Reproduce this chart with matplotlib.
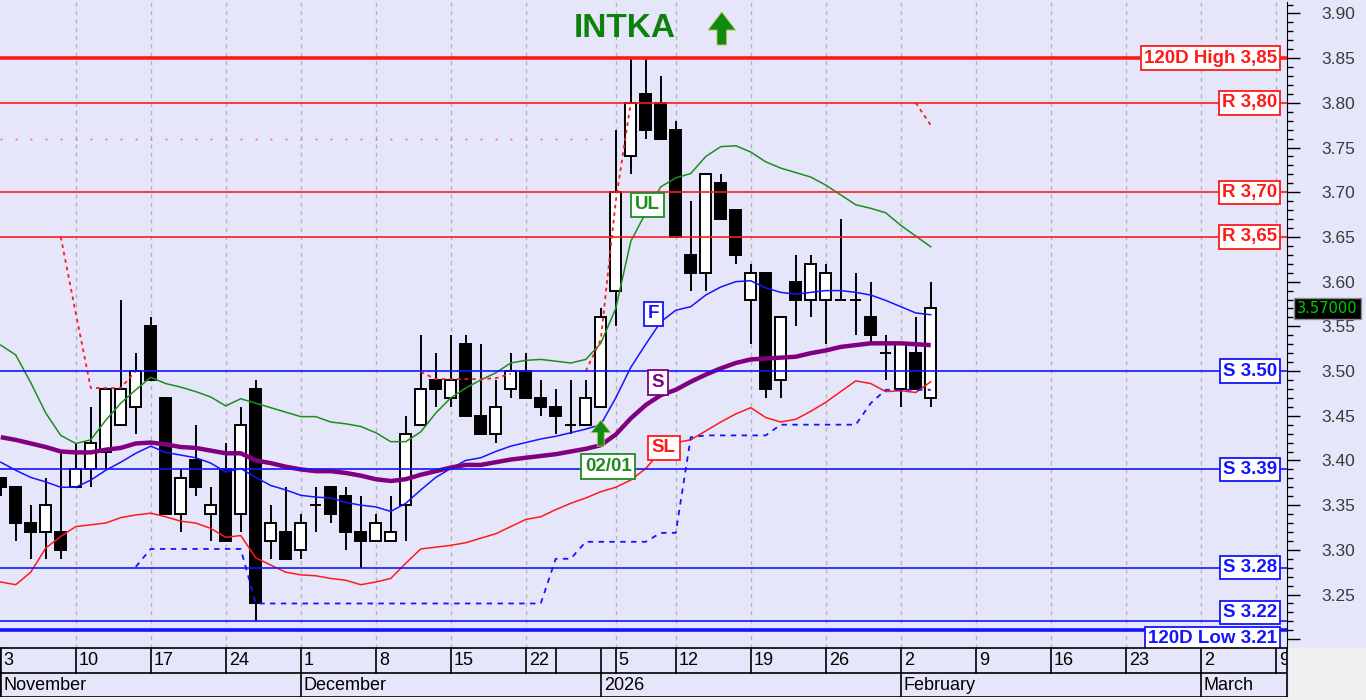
import matplotlib

matplotlib.use("Agg")
import matplotlib.pyplot as plt
import matplotlib.transforms as mtransforms
import numpy as np
import pandas as pd
from matplotlib.patches import Rectangle

plt.rcParams["font.family"] = ["Liberation Sans", "DejaVu Sans"]

# ---- data --------------------------------------------------------------
HOLIDAYS = ["2025-12-24", "2025-12-25", "2025-12-26", "2026-01-01", "2026-01-06"]

opens = [3.38, 3.37, 3.33, 3.32, 3.32, 3.37, 3.39, 3.41, 3.44, 3.46,
         3.55, 3.47, 3.34, 3.40, 3.34, 3.39, 3.34, 3.48, 3.31, 3.32,
         3.30, 3.35, 3.37, 3.36, 3.32, 3.31, 3.31, 3.35, 3.44, 3.49,
         3.47, 3.53, 3.45, 3.43, 3.48, 3.50, 3.47, 3.46, 3.44, 3.44,
         3.46, 3.59, 3.74, 3.81, 3.80, 3.77, 3.63, 3.61, 3.71, 3.68,
         3.58, 3.61, 3.49, 3.60, 3.58, 3.58, 3.58, 3.58, 3.56, 3.52,
         3.48, 3.52, 3.47]
highs = [3.38, 3.37, 3.35, 3.38, 3.41, 3.42, 3.46, 3.48, 3.58, 3.52,
         3.56, 3.47, 3.39, 3.44, 3.37, 3.42, 3.46, 3.49, 3.35, 3.37,
         3.34, 3.37, 3.37, 3.37, 3.36, 3.34, 3.36, 3.45, 3.54, 3.52,
         3.54, 3.54, 3.53, 3.49, 3.52, 3.52, 3.49, 3.48, 3.49, 3.49,
         3.57, 3.77, 3.85, 3.85, 3.83, 3.78, 3.69, 3.72, 3.72, 3.68,
         3.62, 3.61, 3.56, 3.63, 3.63, 3.62, 3.67, 3.61, 3.60, 3.54,
         3.53, 3.56, 3.60]
lows = [3.36, 3.31, 3.29, 3.29, 3.29, 3.37, 3.37, 3.39, 3.44, 3.43,
        3.49, 3.34, 3.32, 3.36, 3.31, 3.31, 3.32, 3.22, 3.29, 3.29,
        3.29, 3.32, 3.33, 3.30, 3.28, 3.31, 3.31, 3.31, 3.44, 3.46,
        3.46, 3.45, 3.43, 3.42, 3.47, 3.47, 3.45, 3.43, 3.43, 3.44,
        3.46, 3.55, 3.72, 3.76, 3.76, 3.65, 3.59, 3.59, 3.67, 3.62,
        3.53, 3.47, 3.47, 3.55, 3.56, 3.53, 3.58, 3.54, 3.53, 3.49,
        3.46, 3.48, 3.46]
closes = [3.37, 3.33, 3.32, 3.35, 3.30, 3.39, 3.42, 3.48, 3.48, 3.50,
          3.49, 3.34, 3.38, 3.37, 3.35, 3.31, 3.44, 3.24, 3.33, 3.29,
          3.33, 3.35, 3.34, 3.32, 3.31, 3.33, 3.32, 3.43, 3.48, 3.48,
          3.49, 3.45, 3.43, 3.46, 3.50, 3.47, 3.46, 3.45, 3.44, 3.47,
          3.56, 3.70, 3.80, 3.77, 3.76, 3.65, 3.61, 3.72, 3.67, 3.63,
          3.61, 3.48, 3.56, 3.58, 3.62, 3.61, 3.58, 3.58, 3.54, 3.52,
          3.53, 3.48, 3.57]

upper_band = [3.529, 3.518, 3.487, 3.453, 3.428, 3.419, 3.423, 3.445, 3.464, 3.479,
              3.493, 3.486, 3.482, 3.477, 3.471, 3.461, 3.469, 3.464, 3.459, 3.454,
              3.449, 3.449, 3.443, 3.441, 3.438, 3.431, 3.421, 3.421, 3.432, 3.453,
              3.470, 3.481, 3.490, 3.498, 3.509, 3.512, 3.513, 3.511, 3.509, 3.513,
              3.531, 3.570, 3.645, 3.677, 3.706, 3.716, 3.721, 3.740, 3.751, 3.752,
              3.745, 3.734, 3.727, 3.722, 3.717, 3.708, 3.697, 3.686, 3.682, 3.677,
              3.663, 3.651, 3.639]
fast_ma = [3.398, 3.389, 3.381, 3.376, 3.370, 3.370, 3.378, 3.389, 3.398, 3.408,
           3.416, 3.409, 3.406, 3.403, 3.397, 3.387, 3.391, 3.381, 3.372, 3.367,
           3.361, 3.359, 3.358, 3.353, 3.350, 3.348, 3.343, 3.352, 3.367, 3.381,
           3.391, 3.400, 3.403, 3.410, 3.416, 3.420, 3.424, 3.427, 3.431, 3.435,
           3.440, 3.470, 3.504, 3.530, 3.555, 3.568, 3.572, 3.585, 3.594, 3.600,
           3.601, 3.593, 3.588, 3.586, 3.588, 3.590, 3.590, 3.588, 3.585, 3.579,
           3.572, 3.565, 3.563]
slow_ma = [3.426, 3.423, 3.419, 3.415, 3.410, 3.409, 3.409, 3.412, 3.414, 3.419,
           3.420, 3.418, 3.415, 3.414, 3.411, 3.408, 3.408, 3.400, 3.397, 3.393,
           3.390, 3.388, 3.388, 3.386, 3.383, 3.379, 3.377, 3.379, 3.384, 3.388,
           3.392, 3.395, 3.395, 3.398, 3.401, 3.403, 3.405, 3.407, 3.410, 3.413,
           3.417, 3.429, 3.447, 3.462, 3.473, 3.479, 3.488, 3.496, 3.503, 3.509,
           3.513, 3.514, 3.515, 3.516, 3.520, 3.523, 3.527, 3.529, 3.531, 3.531,
           3.531, 3.530, 3.529]
lower_band = [3.264, 3.261, 3.275, 3.302, 3.315, 3.326, 3.328, 3.330, 3.336, 3.339,
              3.341, 3.337, 3.332, 3.330, 3.324, 3.314, 3.316, 3.291, 3.283, 3.275,
              3.272, 3.271, 3.268, 3.266, 3.261, 3.264, 3.268, 3.285, 3.301, 3.303,
              3.305, 3.308, 3.313, 3.318, 3.326, 3.334, 3.337, 3.345, 3.352, 3.358,
              3.365, 3.370, 3.378, 3.391, 3.410, 3.420, 3.423, 3.433, 3.443, 3.452,
              3.459, 3.448, 3.443, 3.446, 3.455, 3.465, 3.477, 3.489, 3.486, 3.477,
              3.478, 3.476, 3.488]
stop_short = [None, None, None, None, 3.650, 3.565, 3.481, 3.481, 3.481, 3.500,
              None, None, None, None, None, None, None, None, None, None,
              None, None, None, None, None, None, None, None, 3.499, 3.491,
              3.491, 3.491, 3.491, 3.492, 3.497, None, None, None, None, 3.500,
              3.535, 3.690, 3.800, None, None, None, None, None, None, None,
              None, None, None, None, None, None, None, None, None, None,
              None, 3.800, 3.775]
stop_long = [None, None, None, None, None, None, None, None, None, 3.281,
             3.301, 3.301, 3.301, 3.301, 3.301, 3.301, 3.301, 3.240, 3.240, 3.240,
             3.240, 3.240, 3.240, 3.240, 3.240, 3.240, 3.240, 3.240, 3.240, 3.240,
             3.240, 3.240, 3.240, 3.240, 3.240, 3.240, 3.240, 3.290, 3.290, 3.309,
             3.309, 3.309, 3.309, 3.309, 3.319, 3.319, 3.426, 3.428, 3.428, 3.428,
             3.428, 3.428, 3.440, 3.440, 3.440, 3.440, 3.440, 3.440, 3.464, 3.479,
             3.479, 3.479, 3.479]
target_dots = [3.759] * 41

levels = [3.85, 3.80, 3.70, 3.65, 3.50, 3.39, 3.28, 3.22, 3.21]
level_texts = ["120D High 3,85", "R 3,80", "R 3,70", "R 3,65", "S 3.50",
               "S 3.39", "S 3.28", "S 3.22", "120D Low 3.21"]
last_price = 3.57

week_ticks = ["2025-11-03", "2025-11-10", "2025-11-17", "2025-11-24", "2025-12-01",
              "2025-12-08", "2025-12-15", "2025-12-22", "2025-12-29", "2026-01-02",
              "2026-01-05", "2026-01-12", "2026-01-19", "2026-01-26", "2026-02-02",
              "2026-02-09", "2026-02-16", "2026-02-23", "2026-03-02", "2026-03-09"]
week_labels = ["3", "10", "17", "24", "1", "8", "15", "22", "", "",
               "5", "12", "19", "26", "2", "9", "16", "23", "2", "9"]
month_ticks = ["2025-11-03", "2025-12-01", "2026-01-02", "2026-02-02", "2026-03-02"]
month_labels = ["November", "December", "2026", "February", "March"]
signal_date = "2026-01-02"

# ---- layout ------------------------------------------------------------
W, H = 1366, 700
BG = "#e6e6fa"
RED = "#ff1a1a"
BLUE = "#1414ff"
GREEN = "#1f8c1f"
PURPLE = "#800080"

days = pd.bdate_range("2025-11-03", "2026-03-10", freq="C", holidays=HOLIDAYS)
pos = {d.strftime("%Y-%m-%d"): i for i, d in enumerate(days)}

fig = plt.figure(figsize=(W / 100, H / 100), dpi=100)
fig.patch.set_facecolor(BG)
fig.patches.append(Rectangle((1289 / W, 0), 1, 52 / H, transform=fig.transFigure,
                             facecolor="#f0f0f0", edgecolor="none", zorder=0))
fig.patches.append(Rectangle((0, 0), 1, 3 / H, transform=fig.transFigure,
                             facecolor="#f0f0f0", edgecolor="none", zorder=0))

ax = fig.add_axes([0, 52 / H, 1287 / W, 646 / H])
ax.set_facecolor(BG)
ax.set_xlim(-0.05, 85.75)
ax.set_ylim(3.1902, 3.9128)

# weekly grid
for d in week_ticks:
    if d in ("2025-11-03", "2025-12-29", "2026-01-02"):
        continue
    ax.axvline(pos[d], color="#b4b4b4", lw=1.0, ls=(0, (3, 3)), zorder=0.5)

# candles
x = np.arange(len(opens))
o = np.array(opens)
c = np.array(closes)
ax.vlines(x, lows, highs, color="black", lw=1.4, zorder=2)
ax.bar(x, np.abs(c - o), bottom=np.minimum(o, c), width=0.72,
       color=np.where(c >= o, "white", "black"), edgecolor="black",
       linewidth=1.4, zorder=2.5)

# indicator lines
ax.plot(x, upper_band, color=GREEN, lw=1.1, zorder=3)
ax.plot(x, fast_ma, color=BLUE, lw=1.1, zorder=3)
ax.plot(x, slow_ma, color=PURPLE, lw=3.2, zorder=3, solid_capstyle="butt")
ax.plot(x, lower_band, color=RED, lw=1.1, zorder=3)
ax.plot(x, np.array(stop_short, dtype=float), color=RED, lw=1.3,
        ls=(0, (2, 2.2)), zorder=3)
ax.plot(x, np.array(stop_long, dtype=float), color=BLUE, lw=1.3,
        ls=(0, (3, 3)), zorder=3)
ax.plot(np.arange(len(target_dots)), target_dots, ls="none", marker="s",
        ms=1.2, mew=0, color="#ff5a5a", zorder=3)

# support / resistance levels with labels on the right
blend = mtransforms.blended_transform_factory(ax.transAxes, ax.transData)
label_shift = {"S 3.22": 6.5, "120D Low 3.21": -6.0}
for lvl, txt in zip(levels, level_texts):
    col = RED if lvl > 3.6 else BLUE
    lw = 2.6 if txt.startswith("120D") else 1.2
    ax.axhline(lvl, color=col, lw=lw, zorder=3.5)
    ax.annotate(txt, xy=(1.0, lvl), xycoords=blend,
                xytext=(-7.0, label_shift.get(txt, 0)), textcoords="offset points",
                ha="right", va="center", fontsize=13.5, fontweight="bold", color=col,
                bbox=dict(boxstyle="square,pad=0.17", fc="white", ec=col, lw=1.3),
                zorder=6)

# line tags
sx = pos[signal_date]
tags = [("UL", GREEN, 43.1, 3.686), ("F", BLUE, 43.5, 3.564),
        ("S", PURPLE, 43.8, 3.487), ("SL", RED, 44.2, 3.414),
        ("02/01", GREEN, sx + 0.5, 3.393)]
for txt, col, tx, ty in tags:
    ax.text(tx, ty, txt, ha="center", va="center", fontsize=13.5, fontweight="bold",
            color=col, zorder=6,
            bbox=dict(boxstyle="square,pad=0.2", fc="white", ec=col, lw=1.3))

ax.annotate("", xy=(sx, 3.445), xytext=(sx, 3.416),
            arrowprops=dict(arrowstyle="simple,head_length=0.9,head_width=1.45,tail_width=0.5",
                            fc="#108a10", ec="#c8c860", lw=0.6, mutation_scale=10,
                            shrinkA=0, shrinkB=0), zorder=6)

# title
ax.text(41.6, 3.8826, "INTKA", ha="center", va="center", fontsize=24,
        fontweight="bold", color="#0c820c", zorder=6)
ax.annotate("", xy=(48.07, 3.9016), xytext=(48.07, 3.8647),
            arrowprops=dict(arrowstyle="simple,head_length=1.3,head_width=2.0,tail_width=0.7",
                            fc="#108a10", ec="#c8c860", lw=0.6, mutation_scale=10,
                            shrinkA=0, shrinkB=0), zorder=6)

# right price axis
ax.yaxis.tick_right()
major = np.round(np.arange(3.20, 3.901, 0.05), 2)
ax.set_yticks(major)
ax.set_yticklabels(["" if v < 3.25 else f"{v:.2f}" for v in major])
ax.set_yticks(np.round(np.arange(3.20, 3.911, 0.01), 2), minor=True)
ax.tick_params(axis="y", which="major", length=9, width=1, direction="out",
               pad=16, labelsize=12.5, labelcolor="#3a3a3a")
ax.tick_params(axis="y", which="minor", length=4.5, width=1, direction="out")
ax.set_xticks([])
for side in ("top", "left"):
    ax.spines[side].set_visible(False)
ax.spines["right"].set_color("black")
ax.spines["bottom"].set_color("black")

ax.annotate(f"{last_price:.5f}", xy=(1.0, last_price), xycoords=blend,
            xytext=(29, 0), textcoords="offset points", ha="center", va="center",
            fontsize=10.5, family="DejaVu Sans", color="#00d000",
            bbox=dict(boxstyle="square,pad=0.22", fc="black", ec="#909090", lw=1),
            annotation_clip=False, zorder=7)

# date strip
dax = fig.add_axes([0, 3 / H, 1287 / W, 49 / H], sharex=ax)
dax.set_facecolor(BG)
dax.set_ylim(0, 2)
dax.set_yticks([])
dax.tick_params(axis="x", length=0, labelbottom=False)
for sp in dax.spines.values():
    sp.set_color("black")
    sp.set_linewidth(1.2)
dax.axhline(1, color="black", lw=1.2)
for d, lab in zip(week_ticks, week_labels):
    dax.plot([pos[d], pos[d]], [1, 2], color="black", lw=1.2)
    dax.text(pos[d] + 0.2, 1.5, lab, ha="left", va="center", fontsize=13,
             color="black", clip_on=True)
for d, lab in zip(month_ticks, month_labels):
    dax.plot([pos[d], pos[d]], [0, 1], color="black", lw=1.2)
    dax.text(pos[d] + 0.2, 0.48, lab, ha="left", va="center", fontsize=13,
             color="black", clip_on=True)

fig.savefig("out.png", dpi=100, facecolor=fig.get_facecolor())
